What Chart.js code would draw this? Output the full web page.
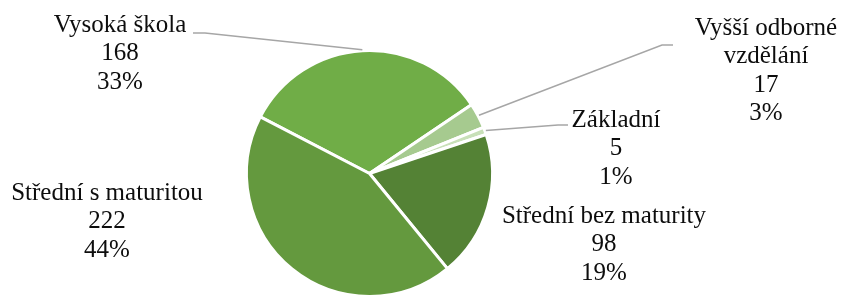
<!DOCTYPE html>
<html>
<head>
<meta charset="utf-8">
<script src="https://cdn.jsdelivr.net/npm/chart.js@4/dist/chart.umd.min.js"></script>
<style>
  html, body { margin: 0; padding: 0; background: #fff; overflow: hidden; }
  #wrap { width: 842px; height: 310px; position: relative; }
</style>
</head>
<body>
<div id="wrap"><canvas id="myChart"></canvas></div>
<script>
// data
const categories = ["Vysoká škola", "Vyšší odborné vzdělání", "Základní", "Střední bez maturity", "Střední s maturitou"];
const counts = [168, 17, 5, 98, 222];
const nameLines = [["Vysoká škola"], ["Vyšší odborné", "vzdělání"], ["Základní"], ["Střední bez maturity"], ["Střední s maturitou"]];
const sliceColors = ["#70ad47", "#a6ca8f", "#c8e0b8", "#548235", "#64993e"];

// label placement: text centre x, first baseline y, optional leader elbow + end
const labelSpots = [
  { x: 120, y: 32, leader: [[205, 33], [193, 33]] },
  { x: 766, y: 35, leader: [[662, 45], [673, 45]] },
  { x: 616, y: 127, leader: [[558, 125], [568, 125]] },
  { x: 604, y: 223 },
  { x: 107, y: 200 },
];

const total = counts.reduce((a, b) => a + b, 0);

const dataLabels = {
  id: "dataLabels",
  afterDraw(chart) {
    const { ctx } = chart;
    const arcs = chart.getDatasetMeta(0).data;
    ctx.save();
    arcs.forEach((arc, i) => {
      const { x, y, startAngle, endAngle, outerRadius } = arc.getProps(["x", "y", "startAngle", "endAngle", "outerRadius"], true);
      const spot = labelSpots[i];
      if (spot.leader) {
        const mid = (startAngle + endAngle) / 2;
        const r = outerRadius + 1;
        ctx.beginPath();
        ctx.moveTo(x + Math.cos(mid) * r, y + Math.sin(mid) * r);
        spot.leader.forEach(([px, py]) => ctx.lineTo(px, py));
        ctx.strokeStyle = "#a6a6a6";
        ctx.lineWidth = 1.5;
        ctx.stroke();
      }
      const lines = [...nameLines[i], String(counts[i]), Math.round(counts[i] / total * 100) + "%"];
      ctx.fillStyle = "#0d0d0d";
      ctx.font = "25px 'Liberation Serif', 'Times New Roman', serif";
      ctx.textAlign = "center";
      ctx.textBaseline = "alphabetic";
      lines.forEach((t, k) => ctx.fillText(t, spot.x, spot.y + k * 28.3));
    });
    ctx.restore();
  },
};

new Chart(document.getElementById("myChart"), {
  type: "pie",
  data: {
    labels: categories,
    datasets: [{
      data: counts,
      backgroundColor: sliceColors,
      borderColor: "#ffffff",
      borderWidth: 3,
    }],
  },
  options: {
    responsive: true,
    maintainAspectRatio: false,
    animation: false,
    rotation: -62.6,
    layout: { padding: { top: 49, bottom: 12, left: 245, right: 348 } },
    plugins: { legend: { display: false }, tooltip: { enabled: false } },
  },
  plugins: [dataLabels],
});
</script>
</body>
</html>
